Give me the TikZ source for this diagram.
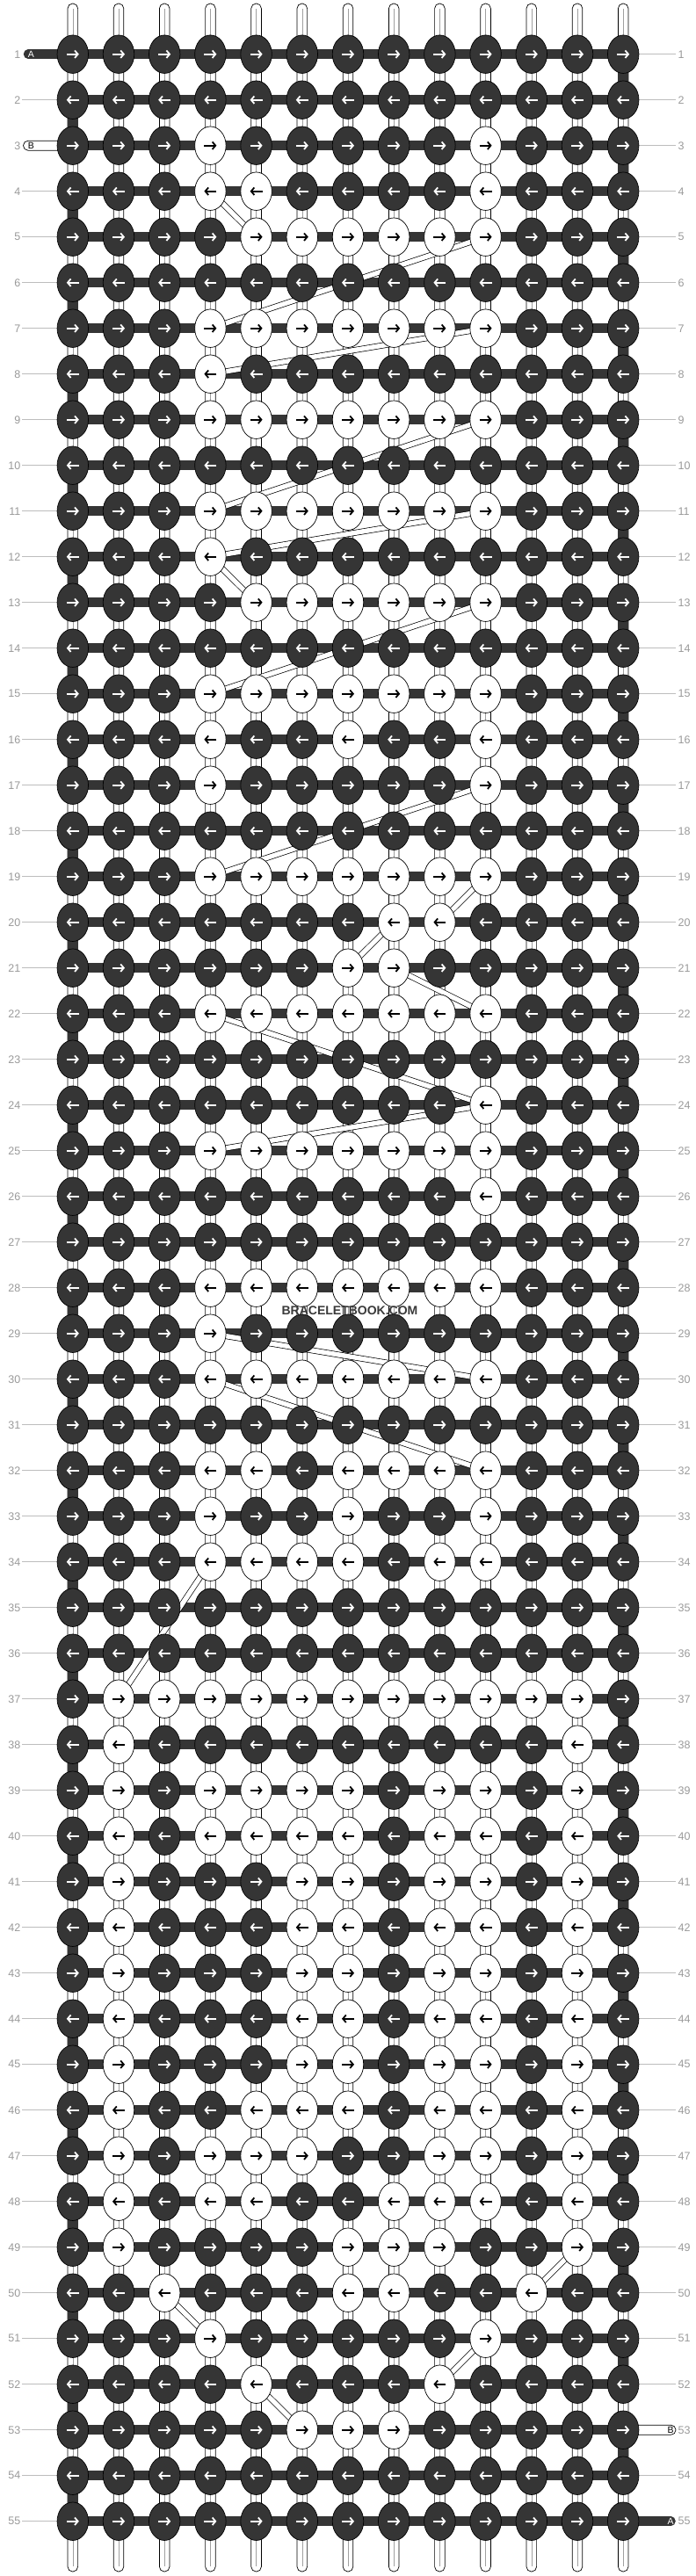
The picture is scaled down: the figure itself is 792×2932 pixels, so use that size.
\documentclass[tikz,border=0pt]{standalone}
\usepackage{fontspec}
\setmainfont{Liberation Sans}
\usetikzlibrary{arrows.meta,shapes.geometric}
\definecolor{kd}{HTML}{353535}
\definecolor{lblgray}{HTML}{9A9A9A}
\definecolor{lngray}{HTML}{BDBDBD}
\definecolor{wmgray}{HTML}{3A3A3A}
\definecolor{warpmid}{HTML}{A0A0A0}
\makeatletter
\newif\ifkw
\newcommand\setrow[2]{\expandafter\def\csname wrow#1\endcsname{,#2,}}
\newcommand\testwhite[2]{%
  \expandafter\ifx\csname wrow#1\endcsname\relax \kwfalse
  \else
    \edef\tw@tmp{\noexpand\in@{,#2,}{\csname wrow#1\endcsname}}%
    \tw@tmp
    \ifin@\kwtrue\else\kwfalse\fi
  \fi}
\makeatother
\setrow{3}{4,10}
\setrow{4}{4,5,10}
\setrow{5}{5,6,7,8,9,10}
\setrow{7}{4,5,6,7,8,9,10}
\setrow{8}{4}
\setrow{9}{4,5,6,7,8,9,10}
\setrow{11}{4,5,6,7,8,9,10}
\setrow{12}{4}
\setrow{13}{5,6,7,8,9,10}
\setrow{15}{4,5,6,7,8,9,10}
\setrow{16}{4,7,10}
\setrow{17}{4,10}
\setrow{19}{4,5,6,7,8,9,10}
\setrow{20}{8,9}
\setrow{21}{7,8}
\setrow{22}{4,5,6,7,8,9,10}
\setrow{24}{10}
\setrow{25}{4,5,6,7,8,9,10}
\setrow{26}{10}
\setrow{28}{4,5,6,7,8,9,10}
\setrow{29}{4}
\setrow{30}{4,5,6,7,8,9,10}
\setrow{32}{4,5,7,8,9,10}
\setrow{33}{4,7,10}
\setrow{34}{4,5,6,7,9,10}
\setrow{37}{2,3,4,5,6,7,8,9,10,11,12}
\setrow{38}{2,12}
\setrow{39}{2,4,5,6,7,9,10,12}
\setrow{40}{2,4,5,6,7,9,10,12}
\setrow{41}{2,6,7,9,10,12}
\setrow{42}{2,6,7,9,10,12}
\setrow{43}{2,6,7,9,10,12}
\setrow{44}{2,6,7,9,10,12}
\setrow{45}{2,6,7,9,10,12}
\setrow{46}{2,5,6,7,9,10,12}
\setrow{47}{2,4,5,6,9,10,12}
\setrow{48}{2,4,5,8,9,10,12}
\setrow{49}{2,7,8,9,12}
\setrow{50}{3,7,8,11}
\setrow{51}{4,10}
\setrow{52}{5,9}
\setrow{53}{6,7,8}
\begin{document}
\begin{tikzpicture}[x=1pt,y=-1pt,
  knotd/.style={ellipse,draw=black,line width=0.7,fill=kd,minimum width=35.5,minimum height=43.5,inner sep=0},
  knotw/.style={ellipse,draw=black,line width=0.7,fill=white,minimum width=35.5,minimum height=43.5,inner sep=0},
  arrw/.style={line width=1.8,-{Straight Barb[length=3.6pt,width=8.5pt]}},
  warp/.style={draw=black,line width=0.7,fill=white,rounded corners=5.6},
  warpline/.style={draw=warpmid,line width=0.5},
  bar/.style={draw=kd,line width=10.5},
  turn/.style={draw=kd,line width=12},
  strip/.style={draw=black,line width=0.7,double=white,double distance=5.4},
  lnline/.style={draw=lngray,line width=0.9},
  lbl/.style={text=lblgray,font=\fontsize{12.5}{12.5}\selectfont,inner sep=0},
  abl/.style={font=\fontsize{10.5}{10.5}\selectfont,inner sep=0},
  wm/.style={text=wmgray,font=\bfseries\fontsize{14}{14}\selectfont,inner sep=0}]
\useasboundingbox (0,0) rectangle (792,2932);
\fill[white] (0,0) rectangle (792,2932);
% knot positions
\foreach \rr in {1,...,55}{\foreach \cc in {1,...,13}{
  \coordinate (k-\rr-\cc) at ({82.8+(\cc-1)*52.2},{61.7+(\rr-1)*52});}}
% warp strings
\foreach \cc in {1,...,13}{
  \coordinate (wt-\cc) at ({82.8+(\cc-1)*52.2},4);
  \coordinate (wb-\cc) at ({82.8+(\cc-1)*52.2},2927);
  \draw[warp] ([xshift=-5.8pt]wt-\cc) rectangle ([xshift=5.8pt]wb-\cc);
  \draw[warpline] ([yshift=-6pt]wt-\cc) -- ([yshift=6pt]wb-\cc);
}
% knotting string rows
\foreach \rr in {1,...,55}{\draw[bar] (k-\rr-1) -- (k-\rr-13);}
\foreach \rr in {1,3,...,53}{\pgfmathtruncatemacro\nx{\rr+1}\draw[turn] (k-\rr-13) -- (k-\nx-13);}
\foreach \rr in {2,4,...,54}{\pgfmathtruncatemacro\nx{\rr+1}\draw[turn] (k-\rr-1) -- (k-\nx-1);}
% B string jumps
\foreach \a/\b in {4-4/5-5,5-10/7-4,7-10/8-4,9-10/11-4,11-10/12-4,12-4/13-5,13-10/15-4,
  17-10/19-4,19-10/20-9,20-8/21-7,21-8/22-10,22-4/24-10,24-10/25-4,29-4/30-10,30-4/32-10,
  34-4/37-2,49-12/50-11,50-3/51-4,51-10/52-9,52-5/53-6}{\draw[strip] (k-\a) -- (k-\b);}
% entering / leaving strings
\coordinate (ain) at (32,61.7);
\coordinate (aout) at (763.5,2869.7);
\draw[bar,line cap=round] (ain) -- (k-1-1);
\draw[bar,line cap=round] (k-55-13) -- (aout);
\draw[draw=black,line width=0.7,fill=white,rounded corners=5.4] (72,160.2) -- (26.5,160.2) -- (26.5,171.2) -- (72,171.2);
\draw[draw=black,line width=0.7,fill=white,rounded corners=5.4] (722,2760.2) -- (769,2760.2) -- (769,2771.2) -- (722,2771.2);
% guide lines
\foreach \rr in {2,4,5,...,55}{
  \coordinate (ll-\rr) at (25.4,{61.7+(\rr-1)*52});
  \draw[lnline] (ll-\rr) -- (k-\rr-1);}
\foreach \rr in {1,...,52,54}{
  \coordinate (lr-\rr) at (769,{61.7+(\rr-1)*52});
  \draw[lnline] (k-\rr-13) -- (lr-\rr);}
% knots
\foreach \rr in {1,...,55}{\foreach \cc in {1,...,13}{
  \testwhite{\rr}{\cc}%
  \ifkw
    \node[knotw] (n-\rr-\cc) at (k-\rr-\cc) {};\def\acol{black}%
  \else
    \node[knotd] (n-\rr-\cc) at (k-\rr-\cc) {};\def\acol{white}%
  \fi
  \ifodd\rr\relax
    \draw[arrw,\acol] ([xshift=-7pt]n-\rr-\cc.center) -- ([xshift=7pt]n-\rr-\cc.center);
  \else
    \draw[arrw,\acol] ([xshift=7pt]n-\rr-\cc.center) -- ([xshift=-7pt]n-\rr-\cc.center);
  \fi
}}
% labels
\node[abl,text=white] (la) at (35.3,62) {A};
\node[abl,text=black] (lb) at (35.3,166) {B};
\node[abl,text=black] (rb) at (763,2766) {B};
\node[abl,text=white] (ra) at (763,2870) {A};
\foreach \rr in {1,...,55}{
  \node[lbl,anchor=east] (ln-\rr) at (23.5,{61.7+(\rr-1)*52}) {\rr};
  \node[lbl,anchor=west] (rn-\rr) at (771.5,{61.7+(\rr-1)*52}) {\rr};}
\node[wm] (wmark) at (398,1492) {BRACELETBOOK.COM};
\end{tikzpicture}
\end{document}
